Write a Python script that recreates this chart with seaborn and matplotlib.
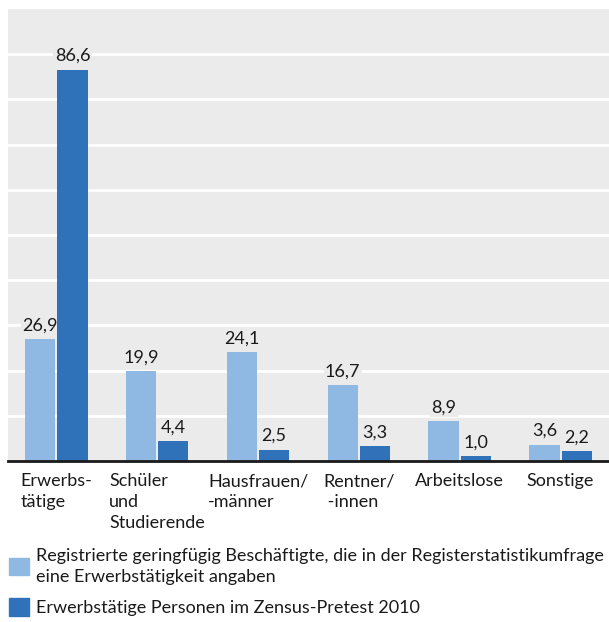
import pandas as pd
import matplotlib.pyplot as plt
import seaborn as sns

kategorien = ['Erwerbs-\ntätige', 'Schüler\nund\nStudierende', 'Hausfrauen/\n-männer',
              'Rentner/\n -innen', 'Arbeitslose', 'Sonstige']
registriert = [26.9, 19.9, 24.1, 16.7, 8.9, 3.6]
zensus = [86.6, 4.4, 2.5, 3.3, 1.0, 2.2]
serien = ['Registrierte geringfügig Beschäftigte, die in der Registerstatistikumfrage\n'
          'eine Erwerbstätigkeit angaben',
          'Erwerbstätige Personen im Zensus-Pretest 2010']
farben = ['#8fb9e3', '#3072b9']

df = pd.DataFrame({
    'kategorie': kategorien * 2,
    'anteil': registriert + zensus,
    'serie': [serien[0]] * len(kategorien) + [serien[1]] * len(kategorien),
})

sns.set_style('white')
plt.rcParams['font.family'] = ['Lato', 'DejaVu Sans']
plt.rcParams['font.size'] = 13

fig = plt.figure(figsize=(6.09, 6.22), dpi=100)
ax = fig.add_axes([0.013, 0.259, 0.987, 0.7265])
ax.set_facecolor('#ebebeb')

sns.barplot(data=df, x='kategorie', y='anteil', hue='serie', palette=farben,
            width=0.64, gap=0.06, saturation=1, linewidth=0, zorder=3,
            ax=ax, legend=False)

ax.set_ylim(0, 100)
ax.set_xlim(-0.48, 5.48)
ax.set_yticks(range(10, 100, 10))
ax.yaxis.grid(True, color='white', linewidth=2)
ax.set_axisbelow(True)
ax.tick_params(axis='y', length=0, labelleft=False)
ax.tick_params(axis='x', length=0, pad=9, labelsize=13, colors='#1a1a1a')
for lbl in ax.get_xticklabels():
    lbl.set_verticalalignment('top')
    lbl.set_multialignment('left')
    lbl.set_linespacing(1.35)
ax.set_xlabel('')
ax.set_ylabel('')
for s in ['top', 'right', 'left']:
    ax.spines[s].set_visible(False)
ax.spines['bottom'].set_color('#1a1a1a')
ax.spines['bottom'].set_linewidth(2)
ax.spines['bottom'].set_zorder(4)

for cont in ax.containers:
    werte = [f'{b.get_height():.1f}'.replace('.', ',') for b in cont]
    txt = ax.bar_label(cont, labels=werte, padding=4, fontsize=13, color='#1a1a1a')
    for t in txt:
        t.set_zorder(2)
        t.set_bbox(dict(facecolor='#ebebeb', edgecolor='none', pad=1))

handles = [plt.Rectangle((0, 0), 1, 1, color=c) for c in farben]
leg = fig.legend(handles, serien, loc='lower left', bbox_to_anchor=(0.0, -0.005),
                 frameon=False, fontsize=13, handlelength=1.1, handleheight=1.1,
                 handletextpad=0.4, labelspacing=0.75, borderaxespad=0.2,
                 borderpad=0.3)
for t in leg.get_texts():
    t.set_linespacing(1.35)
    t.set_color('#1a1a1a')

fig.savefig('out.png', dpi=100)
